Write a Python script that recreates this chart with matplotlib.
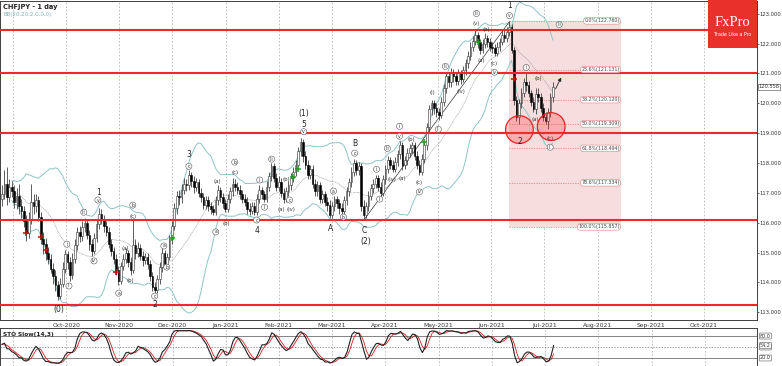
import numpy as np
import pandas as pd
import matplotlib
matplotlib.use("Agg")
import matplotlib.pyplot as plt
from matplotlib.patches import Rectangle, Ellipse

# ---------------- data (CHFJPY daily) ----------------
first_open = 116.80
close = [116.95, 117.30, 116.85, 117.20, 117.05, 116.70, 116.90, 116.55, 116.40, 116.05,
         115.65, 116.10, 116.70, 116.55, 116.75, 116.20, 115.45, 115.30, 115.00, 114.80,
         114.45, 114.20, 113.90, 113.55, 113.95, 114.45, 114.95, 114.70, 114.25, 114.80,
         115.25, 115.70, 115.55, 115.85, 116.00, 115.60, 115.30, 115.05, 115.50, 115.95,
         116.30, 116.10, 115.90, 115.70, 115.30, 115.05, 114.80, 114.40, 114.05, 114.55,
         114.80, 115.00, 114.70, 114.40, 115.25, 115.00, 115.15, 114.90, 114.75, 114.85,
         114.60, 114.20, 113.85, 113.75, 114.10, 114.50, 115.00, 114.60, 114.85, 115.45,
         115.90, 116.50, 116.90, 116.85, 117.10, 117.30, 117.25, 117.60, 117.40, 117.20,
         117.35, 117.00, 116.85, 116.60, 116.75, 116.55, 116.45, 116.35, 116.75, 117.10,
         116.85, 116.65, 116.45, 116.80, 117.05, 117.30, 117.20, 117.10, 116.95, 116.80,
         116.70, 116.45, 116.40, 116.55, 116.35, 116.80, 117.10, 116.95, 116.80, 117.20,
         117.55, 117.90, 117.50, 117.20, 117.35, 117.00, 116.80, 117.05, 117.25, 117.50,
         117.70, 117.95, 118.40, 118.70, 118.25, 117.95, 117.60, 117.80, 117.30, 117.05,
         117.25, 116.80, 116.95, 116.70, 116.60, 116.25, 116.55, 116.80, 116.65, 116.50,
         116.40, 116.75, 117.05, 117.35, 117.70, 118.00, 117.75, 117.90, 116.55, 116.25,
         116.55, 116.90, 117.15, 117.30, 117.50, 117.20, 117.00, 117.45, 117.80, 118.10,
         117.95, 117.80, 118.05, 118.30, 118.60, 117.95, 118.10, 118.35, 118.50, 118.60,
         118.25, 117.95, 117.70, 118.15, 118.60, 119.20, 119.80, 120.00, 119.85, 119.70,
         119.60, 120.05, 120.50, 120.90, 120.70, 121.05, 120.90, 120.75, 121.00, 120.80,
         121.10, 121.35, 121.60, 121.90, 122.10, 122.30, 122.05, 121.80, 122.00, 122.20,
         122.05, 121.90, 121.85, 121.70, 121.90, 122.05, 122.30, 122.20, 122.40, 122.55,
         121.80, 120.10, 119.55, 120.00, 120.35, 120.70, 120.60, 120.35, 120.05, 119.80,
         120.30, 120.20, 119.85, 119.55, 119.40, 119.70, 120.20, 120.558]
high = [117.25, 117.75, 117.85, 117.45, 117.40, 117.25, 117.15, 117.30, 116.80, 116.55,
        116.25, 116.35, 117.30, 116.95, 116.95, 116.90, 116.35, 115.70, 115.50, 115.20,
        114.95, 114.65, 114.40, 114.05, 114.15, 114.70, 115.10, 115.05, 114.85, 115.00,
        115.45, 115.85, 115.90, 116.05, 116.15, 116.10, 115.75, 115.45, 115.65, 116.10,
        116.50, 116.45, 116.25, 116.05, 115.85, 115.45, 115.20, 114.95, 114.55, 114.70,
        114.95, 115.15, 115.10, 114.85, 116.15, 115.45, 115.35, 115.30, 115.05, 115.00,
        115.00, 114.75, 114.35, 114.00, 114.25, 114.70, 115.15, 115.10, 115.00, 115.60,
        116.05, 116.65, 117.05, 117.10, 117.30, 117.50, 117.45, 117.75, 117.70, 117.55,
        117.50, 117.45, 117.15, 117.00, 116.90, 116.90, 116.70, 116.60, 116.90, 117.25,
        117.20, 117.00, 116.80, 116.95, 117.20, 117.50, 117.45, 117.35, 117.25, 117.10,
        116.95, 116.85, 116.65, 116.70, 116.70, 116.95, 117.25, 117.20, 117.05, 117.40,
        117.70, 118.00, 118.00, 117.65, 117.55, 117.50, 117.15, 117.20, 117.40, 117.65,
        117.85, 118.10, 118.55, 118.85, 118.80, 118.40, 118.10, 117.95, 117.95, 117.45,
        117.40, 117.35, 117.10, 117.05, 116.85, 116.75, 116.70, 116.90, 116.90, 116.80,
        116.65, 116.90, 117.20, 117.50, 117.85, 118.15, 118.10, 118.05, 118.00, 116.75,
        116.70, 117.05, 117.30, 117.45, 117.60, 117.60, 117.35, 117.60, 117.95, 118.25,
        118.20, 118.10, 118.20, 118.45, 118.75, 118.70, 118.25, 118.50, 118.65, 118.70,
        118.70, 118.40, 118.10, 118.30, 118.75, 119.35, 119.95, 120.10, 120.10, 120.00,
        119.85, 120.20, 120.65, 121.05, 121.00, 121.20, 121.15, 121.05, 121.15, 121.10,
        121.25, 121.50, 121.75, 122.05, 122.25, 122.45, 122.40, 122.15, 122.15, 122.35,
        122.30, 122.20, 122.05, 122.00, 122.05, 122.20, 122.45, 122.45, 122.55, 122.76,
        122.65, 121.90, 120.25, 120.15, 120.50, 120.85, 121.00, 120.75, 120.45, 120.20,
        120.50, 120.50, 120.35, 120.00, 119.70, 119.85, 120.35, 120.70]
low = [116.55, 116.80, 116.60, 116.70, 116.85, 116.50, 116.45, 116.30, 116.15, 115.85,
       115.40, 115.50, 115.95, 116.30, 116.35, 116.05, 115.30, 114.95, 114.75, 114.60,
       114.30, 113.95, 113.70, 113.40, 113.45, 113.85, 114.30, 114.45, 114.05, 114.10,
       114.65, 115.10, 115.35, 115.40, 115.70, 115.45, 115.10, 114.90, 114.95, 115.35,
       115.80, 115.95, 115.70, 115.55, 115.15, 114.90, 114.60, 114.25, 113.90, 113.95,
       114.40, 114.65, 114.50, 114.25, 114.30, 114.80, 114.85, 114.75, 114.55, 114.60,
       114.45, 114.05, 113.70, 113.60, 113.65, 113.95, 114.35, 114.45, 114.45, 114.75,
       115.30, 115.75, 116.30, 116.60, 116.65, 116.95, 117.05, 117.10, 117.20, 117.00,
       117.05, 116.85, 116.70, 116.45, 116.45, 116.40, 116.30, 116.25, 116.25, 116.60,
       116.70, 116.50, 116.35, 116.35, 116.65, 116.90, 117.05, 116.95, 116.80, 116.65,
       116.55, 116.30, 116.25, 116.30, 116.25, 116.25, 116.65, 116.80, 116.70, 116.70,
       117.05, 117.40, 117.35, 117.05, 117.05, 116.85, 116.65, 116.70, 116.90, 117.10,
       117.35, 117.55, 117.85, 118.25, 118.05, 117.80, 117.45, 117.45, 117.15, 116.90,
       116.90, 116.65, 116.65, 116.55, 116.40, 116.15, 116.15, 116.40, 116.50, 116.30,
       116.30, 116.30, 116.60, 116.90, 117.20, 117.55, 117.60, 117.60, 116.40, 116.10,
       116.15, 116.40, 116.75, 117.00, 117.15, 117.05, 116.90, 116.90, 117.30, 117.65,
       117.80, 117.70, 117.70, 117.90, 118.15, 117.75, 117.80, 117.95, 118.20, 118.35,
       118.10, 117.80, 117.60, 117.60, 118.00, 118.45, 119.05, 119.60, 119.65, 119.55,
       119.45, 119.50, 119.90, 120.35, 120.55, 120.55, 120.70, 120.60, 120.60, 120.65,
       120.70, 120.95, 121.20, 121.45, 121.75, 121.95, 121.85, 121.65, 121.70, 121.85,
       121.90, 121.75, 121.70, 121.60, 121.60, 121.75, 121.95, 122.05, 122.05, 122.25,
       121.70, 119.95, 119.40, 119.30, 119.85, 120.20, 120.40, 120.20, 119.90, 119.70,
       119.65, 120.05, 119.70, 119.40, 119.30, 119.15, 119.55, 120.05]

month_labels = ["", "Oct-2020", "Nov-2020", "Dec-2020", "Jan-2021", "Feb-2021", "Mar-2021",
                "Apr-2021", "May-2021", "Jun-2021", "Jul-2021", "Aug-2021", "Sep-2021",
                "Oct-2021", ""]
price_ticks = [113, 114, 115, 116, 117, 118, 119, 120, 121, 122, 123]
level_lines = [122.46, 121.00, 119.00, 116.10, 113.23]

fib_pct = ["0.0%", "23.6%", "38.2%", "50.0%", "61.8%", "78.6%", "100.0%"]
fib_price = [122.760, 121.131, 120.120, 119.309, 118.494, 117.334, 115.857]

red_cross_bar = [10, 16, 18, 47, 211]
red_cross_price = [115.65, 115.52, 115.08, 114.35, 120.80]
green_cross_bar = [70, 120, 122, 174, 196]
green_cross_price = [115.50, 117.52, 117.79, 118.72, 122.06]

big_text = ["(0)", "1", "2", "3", "4", "5", "(1)", "A", "B", "C", "(2)", "1", "2"]
big_bar = [23.5, 39.9, 63.0, 77.0, 105.3, 124.3, 124.3, 135.4, 145.3, 149.4, 149.8, 209.1, 213.2]
big_price = [113.08, 117.02, 113.25, 118.29, 115.75, 119.30, 119.67, 115.82, 118.66, 115.75,
             115.38, 123.28, 118.73]

circ_text = ["i", "ii", "iii", "iv", "v", "a", "b", "c", "a", "b", "c", "a", "b", "c",
             "i", "ii", "iii", "c", "v", "a", "b", "c", "i", "ii", "iii", "iv", "v", "i",
             "ii", "iii", "iii", "iv", "v", "i", "ii", "iii"]
circ_bar = [26.7, 27.6, 33.7, 37.9, 39.5, 48.1, 53.9, 62.9, 66.7, 67.9, 77.0, 88.1, 95.9,
            104.9, 106.2, 108.2, 111.1, 118.5, 124.3, 136.6, 140.7, 145.3, 154.3, 155.6,
            158.8, 172.0, 163.8, 163.8, 179.8, 182.7, 195.5, 202.9, 209.1, 216.0, 225.9, 229.6]
circ_price = [115.28, 113.88, 116.35, 114.72, 116.76, 113.64, 116.59, 113.54, 115.22, 114.51,
              117.89, 115.69, 118.03, 116.09, 117.43, 116.52, 118.13, 116.76, 119.05, 117.06,
              116.19, 118.33, 117.79, 116.79, 118.49, 117.03, 118.90, 119.23, 119.13, 121.24,
              123.01, 121.04, 122.94, 121.20, 118.53, 122.64]

par_text = ["(a)", "(b)", "(c)", "(a)", "(b)", "(c)", "(b)", "(a)", "(iv)", "(iv)", "(a)",
            "(b)", "(c)", "(i)", "(iv)", "(v)", "(a)", "(b)", "(c)", "(a)", "(b)", "(c)"]
par_bar = [50.6, 52.7, 53.9, 88.9, 92.6, 95.9, 117.3, 115.2, 118.9, 160.5, 165.0, 168.7,
           172.0, 177.4, 189.3, 195.5, 197.5, 199.6, 202.9, 219.8, 221.0, 225.9]
par_price = [115.15, 114.05, 116.22, 117.39, 115.99, 117.69, 117.46, 116.45, 116.45, 117.45,
             117.49, 118.79, 117.36, 120.37, 120.40, 122.68, 121.44, 122.47, 121.34, 119.46,
             120.84, 118.83]

trend_bar = [149.4, 209.1]
trend_price = [116.12, 122.74]
circle_bar = [213.2, 226.3]
circle_price = [119.12, 119.22]

# ---------------- derived ----------------
c = np.array(close)
h = np.array(high)
l = np.array(low)
o = np.array([first_open] + close[:-1])
n = len(c)
x = np.arange(n)

cs = pd.Series(c)
mid = cs.rolling(20, min_periods=5).mean()
sd = cs.rolling(20, min_periods=5).std(ddof=0)
upper = mid + 2 * sd
lower = mid - 2 * sd

hs, ls = pd.Series(h), pd.Series(l)
hh = hs.rolling(14, min_periods=1).max()
ll = ls.rolling(14, min_periods=1).min()
num = (cs - ll).rolling(3, min_periods=1).sum()
den = (hh - ll).rolling(3, min_periods=1).sum()
K = 100 * num / den
D = K.rolling(3, min_periods=1).mean()

# ---------------- figure ----------------
W, H = 782, 366
fig = plt.figure(figsize=(W / 100, H / 100), dpi=100)
fig.patch.set_facecolor("white")
ax = fig.add_axes([0.0, 46 / H, 757 / W, 319.5 / H])
ax2 = fig.add_axes([0.0, 0.0, 757 / W, 38 / H])

def px_per_bar(px):
    return (px - 2) / 2.43

xmin, xmax = px_per_bar(0), px_per_bar(757)
grid_pos = [4.5 + 21.9 * k for k in range(len(month_labels))]

for a in (ax, ax2):
    a.set_xlim(xmin, xmax)
    for gp in grid_pos:
        a.axvline(gp, color="#a8a8a8", lw=0.5, ls=(0, (2.5, 2.5)), zorder=0)
    for s in a.spines.values():
        s.set_color("#404040")
        s.set_linewidth(0.7)

ax.set_ylim(112.74, 123.445)

# fib box
ax.add_patch(Rectangle((209, fib_price[-1]), 255 - 209, fib_price[0] - fib_price[-1],
                       facecolor="#f7dede", edgecolor="none", zorder=0.5))
ax.hlines(fib_price, 209, 255, colors="#e07a7a", lw=0.5, linestyles=(0, (2, 1.5)), zorder=1)
for p, fp in zip(fib_pct, fib_price):
    ax.text(254.5, fp, f"{p}({fp:.3f})", fontsize=3.4, ha="right", va="center", color="#444",
            zorder=6, bbox=dict(boxstyle="round,pad=0.15,rounding_size=0.5", fc="white",
                                ec="#e08080", lw=0.4))

# Bollinger
ax.plot(x, upper, color="#8fc4c4", lw=0.7, zorder=2)
ax.plot(x, lower, color="#8fc4c4", lw=0.7, zorder=2)
ax.plot(x, mid, color="#8a8a8a", lw=0.5, ls=(0, (1, 1)), zorder=2)

# trend line
ax.plot(trend_bar, trend_price, color="#333333", lw=0.5, zorder=2)

# candles
ax.vlines(x, l, h, color="#303030", lw=0.55, zorder=3)
up = c >= o
body = np.maximum(np.abs(c - o), 0.02)
ax.bar(x[up], body[up], bottom=o[up], width=0.7, color="white", edgecolor="#303030",
       lw=0.4, zorder=4)
ax.bar(x[~up], body[~up], bottom=c[~up], width=0.7, color="black", edgecolor="black",
       lw=0.4, zorder=4)

# horizontal levels
for lv in level_lines:
    ax.axhline(lv, color="#f02828", lw=1.5, zorder=5)

# red circles
for cb, cp in zip(circle_bar, circle_price):
    ax.add_patch(Ellipse((cb, cp), 11.4, 0.93, facecolor=(1, 0.2, 0.2, 0.28),
                         edgecolor="#f02020", lw=0.9, zorder=5.5))

# crosses
ax.plot(red_cross_bar, red_cross_price, ls="none", marker="+", ms=4, mew=1.1,
        color="#c01010", zorder=6)
ax.plot(green_cross_bar, green_cross_price, ls="none", marker="+", ms=4, mew=1.1,
        color="#20a020", zorder=6)

# wave labels
for t, b, p in zip(big_text, big_bar, big_price):
    ax.text(b, p, t, fontsize=5.5, ha="center", va="center", color="#222", zorder=7)
for t, b, p in zip(circ_text, circ_bar, circ_price):
    ax.text(b, p, t, fontsize=3.3, ha="center", va="center", color="#333", zorder=7,
            bbox=dict(boxstyle="circle,pad=0.12", fc="white", ec="#555", lw=0.4))
for t, b, p in zip(par_text, par_bar, par_price):
    ax.text(b, p, t, fontsize=3.8, ha="center", va="center", color="#333", zorder=7)

# arrow
ax.annotate("", xy=(230.9, 120.95), xytext=(227.6, 120.40),
            arrowprops=dict(arrowstyle="-|>", color="#222", lw=0.6, mutation_scale=5),
            zorder=7)

# axes ticks
ax.yaxis.tick_right()
ax.set_yticks(price_ticks)
ax.set_yticklabels([f"{v:.3f}" for v in price_ticks])
ax.tick_params(axis="y", labelsize=3.8, length=1.5, width=0.5, pad=0.6, colors="#333")
ax.set_xticks(grid_pos)
ax.set_xticklabels(month_labels)
ax.tick_params(axis="x", labelsize=4.3, length=0, pad=2.2, colors="#333")

ax.text(1.002, c[-1], f"{c[-1]:.3f}", transform=ax.get_yaxis_transform(), fontsize=3.7,
        va="center", ha="left", color="#333", zorder=8,
        bbox=dict(boxstyle="square,pad=0.1", fc="white", ec="#444", lw=0.4))

ax.text(3 / 757, 1 - 6 / 319, "CHFJPY - 1 day", transform=ax.transAxes, fontsize=4.8,
        fontweight="bold", ha="left", va="center", color="#222")
ax.text(3 / 757, 1 - 14 / 319, "BB(20,20,2.0,0,0)", transform=ax.transAxes, fontsize=4.0,
        ha="left", va="center", color="#7fb5b5")

# logo
fig.patches.append(Rectangle((708 / W, 1 - 48 / H), 49 / W, 48 / H, transform=fig.transFigure,
                             facecolor="#e9312b", edgecolor="none", zorder=10))
fig.text(732.5 / W, 1 - 22 / H, "FxPro", fontsize=10.5, family="Liberation Serif",
         color="white", ha="center", va="center", zorder=11)
fig.text(732.5 / W, 1 - 35 / H, "Trade Like a Pro", fontsize=3.4, color="white",
         ha="center", va="center", zorder=11)

# stochastic panel
ax2.set_ylim(-1.9, 101.9)
for lvl in (80, 20):
    ax2.axhline(lvl, color="#707070", lw=0.6, zorder=1)
ax2.axhline(50, color="#707070", lw=0.5, ls=(0, (2, 2)), zorder=1)
ax2.plot(x, D, color="#d02020", lw=0.6, zorder=2)
ax2.plot(x, K, color="#202020", lw=0.8, zorder=3)
ax2.set_xticks([])
ax2.set_yticks([])
for lvl in (80, 50, 20):
    ax2.text(1.004, lvl, f"{lvl:.1f}", transform=ax2.get_yaxis_transform(), fontsize=3.5,
             va="center", ha="left", color="#333",
             bbox=dict(boxstyle="round,pad=0.1", fc="white", ec="#555", lw=0.4))
ax2.text(1.004, K.iloc[-1], f"{K.iloc[-1]:.1f}", transform=ax2.get_yaxis_transform(),
         fontsize=3.5, va="center", ha="left", color="#333",
         bbox=dict(boxstyle="round,pad=0.1", fc="white", ec="#555", lw=0.4))
ax2.text(3 / 757, 0.84, "STO Slow(14,3)", transform=ax2.transAxes, fontsize=4.2,
         fontweight="bold", ha="left", va="center", color="#222")

fig.savefig("out.png", dpi=100, facecolor="white")
